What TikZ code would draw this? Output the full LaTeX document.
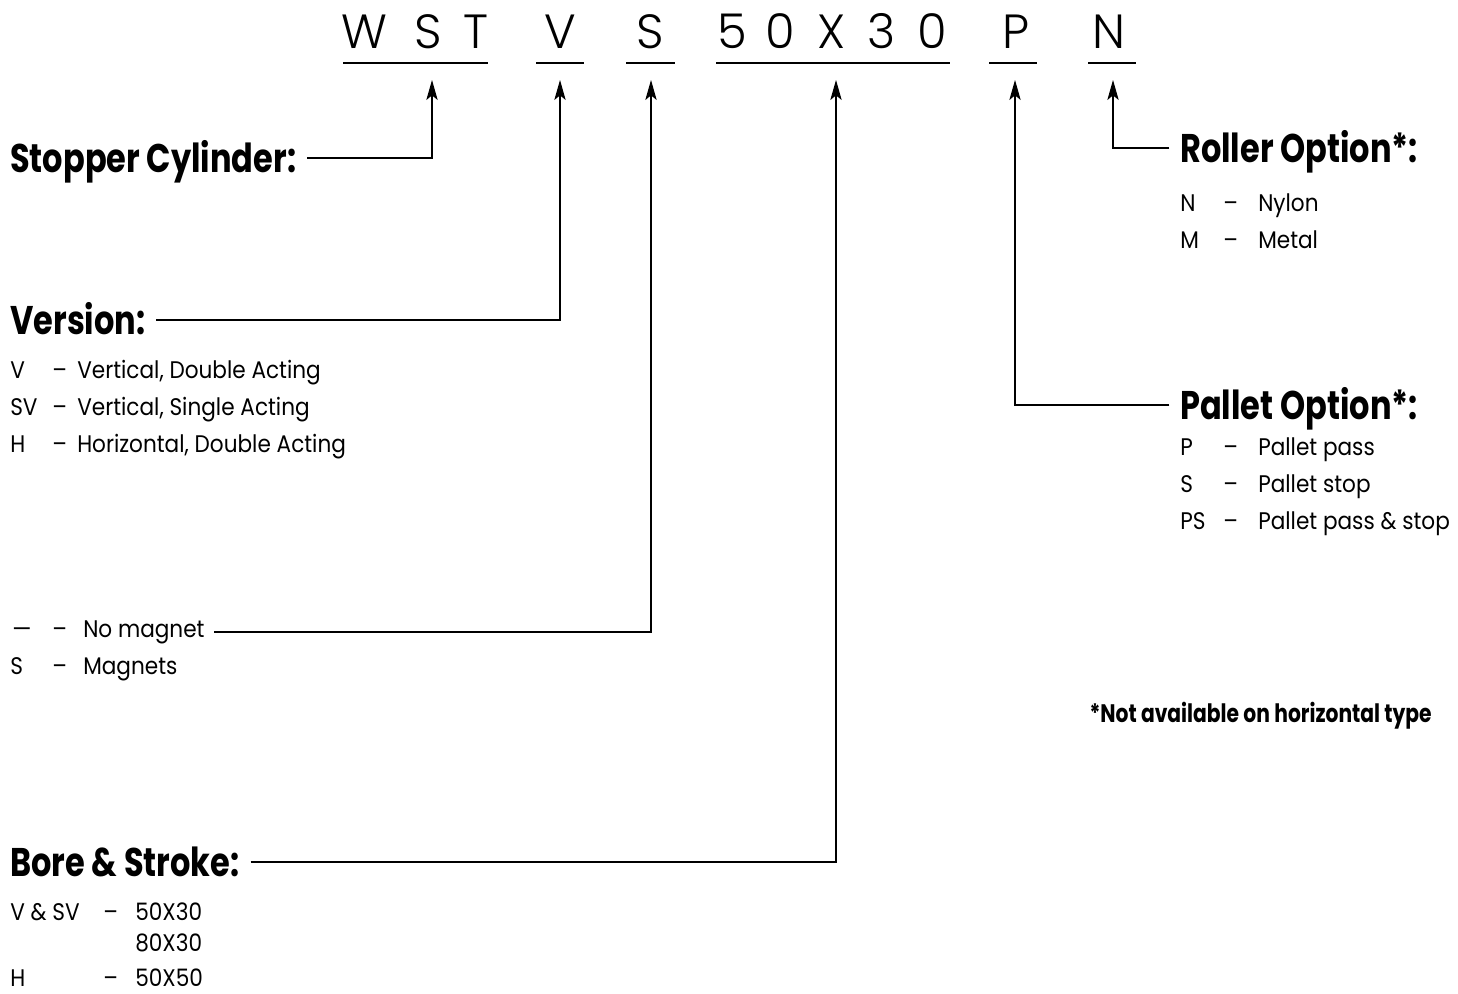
\documentclass[tikz,border=0pt]{standalone}
\usepackage{fontspec}
\setmainfont{Poppins}
\newfontfamily\codefont{Poppins Light}
\newfontfamily\headfont[FakeStretch=0.8]{Poppins Bold}
\newfontfamily\itemfont[FakeStretch=0.9]{Poppins}
\usetikzlibrary{arrows.meta}
\tikzstyle{code} = [font=\codefont\fontsize{36}{40}\selectfont, inner sep=0pt, anchor=base]
\tikzstyle{head} = [font=\headfont\fontsize{30}{34}\selectfont, inner sep=0pt, anchor=west, text height=21pt, text depth=0pt]
\tikzstyle{item} = [font=\itemfont\fontsize{18}{22}\selectfont, inner sep=0pt, anchor=base west, text depth=0pt]
\tikzstyle{note} = [font=\headfont\fontsize{19}{22}\selectfont, inner sep=0pt, anchor=base east]
\tikzstyle{line} = [draw, line width=1pt]
\tikzstyle{pointer} = [draw, line width=0.8pt, -{Stealth[length=15pt,width=8.5pt,inset=3.5pt]}]

\begin{document}
\begin{tikzpicture}[x=0.75pt,y=-0.75pt]
    \useasboundingbox (0,0) rectangle (1458,993);

    % model code
    \foreach \ch/\xx [count=\i] in {W/364,S/428,T/476,V/560,S/650,5/732,0/780,X/832,3/882,0/932,P/1016,N/1109}
        \node[code] (ch\i) at (\xx,48) {\ch};
    \foreach \a/\b in {343/488,536/584,626/675,716/950,989/1037,1088/1136}
        \draw[line] (\a,63) -- (\b,63);

    \coordinate (tWST) at (432,80);
    \coordinate (tV) at (560,80);
    \coordinate (tS) at (651,80);
    \coordinate (tBore) at (836,80);
    \coordinate (tP) at (1015,80);
    \coordinate (tN) at (1113,80);

    % left side
    \node[head] (stopper) at (10,158) {Stopper Cylinder:};
    \draw[pointer] ([xshift=8pt]stopper.east) -| (tWST);

    \node[head] (version) at (10,320) {Version:};
    \draw[pointer] ([xshift=8pt]version.east) -| (tV);
    \foreach \c/\t/\yy [count=\i] in {V/{Vertical, Double Acting}/378,SV/{Vertical, Single Acting}/415,H/{Horizontal, Double Acting}/452} {
        \node[item] (ver\i c) at (10,\yy) {\c};
        \node[item] (ver\i d) at (52,\yy) {–};
        \node[item] (ver\i t) at (77,\yy) {\t};
    }

    \node[item] (mag1c) at (12,637) {—};
    \node[item] (mag1d) at (52,637) {–};
    \node[item] (mag1t) at (83,637) {No magnet};
    \draw[pointer] ([xshift=7pt]mag1t.east |- 0,632) -| (tS);
    \node[item] (mag2c) at (10,674) {S};
    \node[item] (mag2d) at (52,674) {–};
    \node[item] (mag2t) at (83,674) {Magnets};

    \node[head] (bore) at (10,862) {Bore \& Stroke:};
    \draw[pointer] ([xshift=8pt]bore.east) -| (tBore);
    \node[item] (bore1c) at (10,920) {V \& SV};
    \node[item] (bore1d) at (103,920) {–};
    \node[item] (bore1t) at (135,920) {50X30};
    \node[item] (bore2t) at (135,951) {80X30};
    \node[item] (bore3c) at (10,986) {H};
    \node[item] (bore3d) at (103,986) {–};
    \node[item] (bore3t) at (135,986) {50X50};

    % right side
    \node[head] (roller) at (1180,148) {Roller Option*:};
    \draw[pointer] ([xshift=-8pt]roller.west) -| (tN);
    \foreach \c/\t/\yy [count=\i] in {N/Nylon/211,M/Metal/248} {
        \node[item] (rol\i c) at (1180,\yy) {\c};
        \node[item] (rol\i d) at (1223,\yy) {–};
        \node[item] (rol\i t) at (1258,\yy) {\t};
    }

    \node[head] (pallet) at (1180,405) {Pallet Option*:};
    \draw[pointer] ([xshift=-8pt]pallet.west) -| (tP);
    \foreach \c/\t/\yy [count=\i] in {P/Pallet pass/455,S/Pallet stop/492,PS/Pallet pass \& stop/529} {
        \node[item] (pal\i c) at (1180,\yy) {\c};
        \node[item] (pal\i d) at (1223,\yy) {–};
        \node[item] (pal\i t) at (1258,\yy) {\t};
    }

    \node[note] (notavail) at (1432,722) {*Not available on horizontal type};
\end{tikzpicture}
\end{document}
